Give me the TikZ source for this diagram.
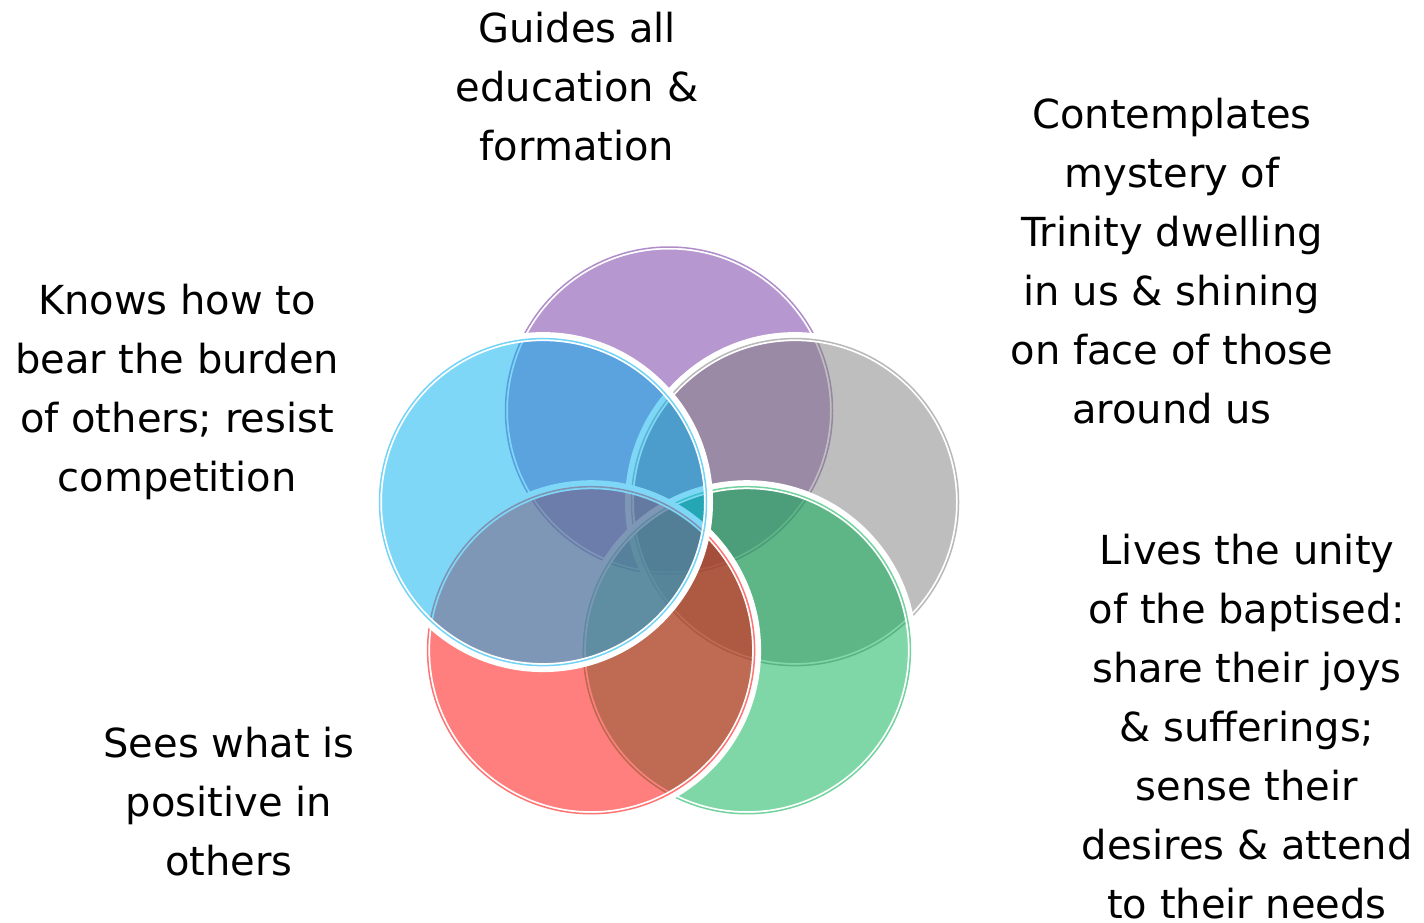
\documentclass[tikz,border=0pt]{standalone}
\usepackage{fontspec}
\setmainfont{DejaVu Sans}
\definecolor{cpurple}{HTML}{7030A0}
\definecolor{cgray}{HTML}{7F7F7F}
\definecolor{cgreen}{HTML}{00B050}
\definecolor{cred}{HTML}{FF0000}
\definecolor{cblue}{HTML}{00B0F0}
\tikzset{
  lbl/.style={font=\fontsize{40}{59}\selectfont, align=center, inner sep=0pt, anchor=north},
}
\newcommand{\venncircle}[2]{%
  \fill[#1, fill opacity=0.5] (#2) circle[radius=163.5pt];
  \draw[white, line width=9pt] (#2) circle[radius=165.5pt];
  \draw[#1, draw opacity=0.55, line width=1.5pt] (#2) circle[radius=163.5pt];
}
\begin{document}
\begin{tikzpicture}[x=1pt,y=-1pt]
\fill[white] (0,0) rectangle (1424,923);
\useasboundingbox (0,0) rectangle (1424,923);
\coordinate (cP) at (669,410.5);
\coordinate (cG) at (795.0,502.1);
\coordinate (cE) at (746.9,650.2);
\coordinate (cR) at (591.1,650.2);
\coordinate (cB) at (543.0,502.1);
\venncircle{cpurple}{cP}
\venncircle{cgray}{cG}
\venncircle{cgreen}{cE}
\venncircle{cred}{cR}
\venncircle{cblue}{cB}
\node[lbl] (tTop) at (577,42-41.3) {\strut Guides all\\education \&\\formation};
\node[lbl] (tRight) at (1172,128-41.3) {\strut Contemplates\\mystery of\\Trinity dwelling\\in us \& shining\\on face of those\\around us};
\node[lbl] (tLeft) at (177,314-41.3) {\strut Knows how to\\bear the burden\\of others; resist\\competition};
\node[lbl] (tBR) at (1247,564-41.3) {\strut Lives the unity\\of the baptised:\\share their joys\\\& sufferings;\\sense their\\desires \& attend\\to their needs};
\node[lbl] (tBL) at (229,757-41.3) {\strut Sees what is\\positive in\\others};
\end{tikzpicture}
\end{document}
